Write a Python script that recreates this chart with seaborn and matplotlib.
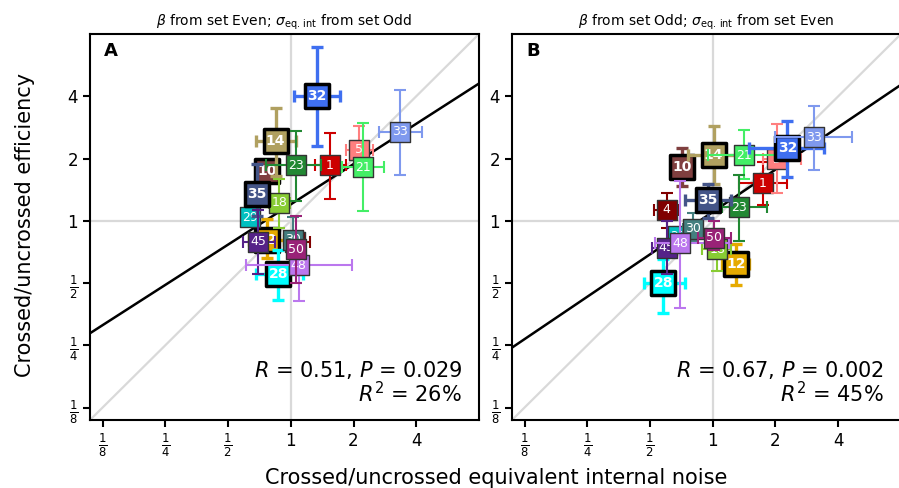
import numpy as np
import pandas as pd
import matplotlib
matplotlib.use("Agg")
import matplotlib.pyplot as plt
import seaborn as sns
from matplotlib.ticker import FixedLocator, NullLocator

# observer ids, colours, and which ones get the heavy boxes
ids = [1, 4, 5, 10, 12, 14, 18, 21, 23, 28, 29, 30, 32, 33, 35, 45, 48, 50]
colors = ["#cc0000", "#800000", "#ff7f7f", "#7f3f3f", "#e6aa00", "#b0a060",
          "#88cc33", "#44ee66", "#228833", "#00ffff", "#00c0c0", "#447f7f",
          "#3f6ff0", "#7f99ee", "#445588", "#552288", "#bb77ee", "#992277"]
heavy = [10, 12, 14, 28, 32, 35]

# panel A: beta from Even, sigma from Odd
a_noise = [1.54, 1.05, 2.13, 0.77, 0.77, 0.845, 0.88, 2.21, 1.06, 0.87, 0.64, 1.03, 1.34, 3.34, 0.69, 0.70, 1.09, 1.06]
a_noise_lo = [1.31, 0.98, 1.84, 0.71, 0.63, 0.68, 0.79, 1.76, 0.76, 0.68, 0.60, 0.95, 1.04, 2.65, 0.64, 0.59, 0.61, 0.97]
a_noise_hi = [1.84, 1.23, 2.47, 0.84, 0.93, 1.06, 0.99, 2.81, 1.40, 1.14, 0.68, 1.10, 1.72, 4.25, 0.75, 0.84, 1.96, 1.16]
a_eff = [1.86, 0.79, 2.20, 1.74, 0.81, 2.44, 1.22, 1.82, 1.86, 0.55, 1.04, 0.81, 4.03, 2.69, 1.35, 0.79, 0.61, 0.73]
a_eff_lo = [1.27, 0.72, 1.71, 1.57, 0.66, 1.65, 0.925, 1.11, 1.24, 0.415, 0.97, 0.74, 2.31, 1.66, 1.05, 0.55, 0.41, 0.50]
a_eff_hi = [2.65, 0.88, 2.88, 1.93, 1.02, 3.50, 1.59, 2.97, 2.72, 0.725, 1.10, 1.04, 6.92, 4.29, 1.88, 1.13, 0.81, 1.05]

# panel B: beta from Odd, sigma from Even
b_noise = [1.74, 0.60, 2.04, 0.71, 1.29, 1.01, 1.05, 1.42, 1.34, 0.58, 0.68, 0.80, 2.28, 3.06, 0.95, 0.60, 0.70, 1.015]
b_noise_lo = [1.34, 0.525, 1.74, 0.66, 1.11, 0.76, 0.89, 0.95, 1.11, 0.47, 0.62, 0.72, 1.50, 2.00, 0.74, 0.51, 0.53, 0.85]
b_noise_hi = [2.28, 0.68, 2.64, 0.77, 1.49, 1.30, 1.23, 2.00, 1.82, 0.74, 0.74, 0.88, 3.41, 4.65, 1.23, 0.72, 1.20, 1.22]
b_eff = [1.52, 1.13, 1.98, 1.83, 0.62, 2.08, 0.73, 2.08, 1.16, 0.50, 0.84, 0.915, 2.24, 2.53, 1.26, 0.74, 0.78, 0.83]
b_eff_lo = [1.19, 0.92, 1.37, 1.47, 0.49, 1.51, 0.57, 1.59, 0.80, 0.36, 0.75, 0.80, 1.62, 1.76, 1.03, 0.55, 0.38, 0.72]
b_eff_hi = [1.93, 1.37, 2.93, 2.26, 0.77, 2.88, 0.91, 2.75, 1.66, 0.65, 0.93, 1.09, 3.03, 3.58, 1.51, 1.00, 1.56, 1.00]

# fitted line in log2 units (slope, intercept) and stats
fit_a = (0.647, 0.264)
fit_b = (0.681, 0.142)
stats_a = "$R$ = 0.51, $P$ = 0.029\n$R^2$ = 26%"
stats_b = "$R$ = 0.67, $P$ = 0.002\n$R^2$ = 45%"
titles = [r"$\beta$ from set Even; $\sigma_{\mathrm{eq.\,int}}$ from set Odd",
          r"$\beta$ from set Odd; $\sigma_{\mathrm{eq.\,int}}$ from set Even"]

tick_vals = [1/8, 1/4, 1/2, 1, 2, 4]
tick_labels = [r"$\frac{1}{8}$", r"$\frac{1}{4}$", r"$\frac{1}{2}$", "1", "2", "4"]
lims = (2 ** -3.2, 2 ** 3.0)

sns.set_style("ticks")
plt.rcParams["font.family"] = ["DejaVu Sans"]
plt.rcParams.update({"text.color": "black", "axes.labelcolor": "black",
                     "xtick.color": "black", "ytick.color": "black"})

fig = plt.figure(figsize=(8.99, 4.88), dpi=100)
ax_a = fig.add_axes([0.1001, 0.1393, 0.4327, 0.791])
ax_b = fig.add_axes([0.5695, 0.1393, 0.4327, 0.791])


def make_df(noise, nlo, nhi, eff, elo, ehi):
    return pd.DataFrame({"id": ids, "color": colors, "noise": noise, "nlo": nlo, "nhi": nhi,
                         "eff": eff, "elo": elo, "ehi": ehi})


def draw_panel(ax, df, fit, stats, letter, title):
    ax.set_xscale("log", base=2)
    ax.set_yscale("log", base=2)
    ax.set_xlim(lims)
    ax.set_ylim(lims)
    grey = "#d9d9d9"
    ax.axhline(1, color=grey, lw=1.6, zorder=1)
    ax.axvline(1, color=grey, lw=1.6, zorder=1)
    ax.plot(lims, lims, color=grey, lw=1.6, zorder=1)

    xs = np.array(lims)
    ys = 2 ** (fit[1] + fit[0] * np.log2(xs))
    sns.lineplot(x=xs, y=ys, color="black", lw=1.8, ax=ax, zorder=2)

    z = 3
    for _, r in df.iterrows():
        big = r["id"] in heavy
        ax.errorbar(r["noise"], r["eff"],
                    xerr=[[r["noise"] - r["nlo"]], [r["nhi"] - r["noise"]]],
                    yerr=[[r["eff"] - r["elo"]], [r["ehi"] - r["eff"]]],
                    fmt="none", ecolor=r["color"], elinewidth=2.4 if big else 1.5,
                    capsize=4, capthick=2.4 if big else 1.5, zorder=z)
        sns.scatterplot(x=[r["noise"]], y=[r["eff"]], marker="s",
                        s=300 if big else 210, color=r["color"],
                        edgecolor="black" if big else "#333333",
                        linewidth=2.5 if big else 1.0, ax=ax, legend=False, zorder=z + 1)
        ax.text(r["noise"], r["eff"], str(r["id"]), color="white", ha="center", va="center",
                fontsize=10 if big else 9, fontweight="bold" if big else "normal", zorder=z + 2)
        z += 3

    ax.xaxis.set_major_locator(FixedLocator(tick_vals))
    ax.yaxis.set_major_locator(FixedLocator(tick_vals))
    ax.xaxis.set_minor_locator(NullLocator())
    ax.yaxis.set_minor_locator(NullLocator())
    ax.set_xticklabels(tick_labels)
    ax.set_yticklabels(tick_labels)
    ax.tick_params(labelsize=12, width=1.5, length=5)
    for s in ax.spines.values():
        s.set_linewidth(1.5)
        s.set_color("black")
    ax.set_xlabel("")
    ax.set_ylabel("")
    ax.set_title(title, fontsize=10)
    ax.text(0.036, 0.955, letter, transform=ax.transAxes, fontsize=13, fontweight="bold",
            ha="left", va="center")
    ax.text(0.956, 0.035, stats, transform=ax.transAxes, fontsize=15, ha="right", va="bottom",
            multialignment="right", linespacing=1.0)


draw_panel(ax_a, make_df(a_noise, a_noise_lo, a_noise_hi, a_eff, a_eff_lo, a_eff_hi),
           fit_a, stats_a, "A", titles[0])
draw_panel(ax_b, make_df(b_noise, b_noise_lo, b_noise_hi, b_eff, b_eff_lo, b_eff_hi),
           fit_b, stats_b, "B", titles[1])

fig.text(0.028, 0.54, "Crossed/uncrossed efficiency", rotation=90, fontsize=15,
         ha="center", va="center")
fig.text(0.552, 0.02, "Crossed/uncrossed equivalent internal noise", fontsize=15,
         ha="center", va="center")

fig.savefig("out.png", dpi=100)
